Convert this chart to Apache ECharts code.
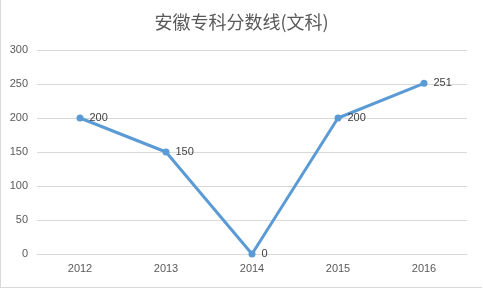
<!DOCTYPE html>
<html><head><meta charset="utf-8">
<script src="https://cdn.jsdelivr.net/npm/echarts@6/dist/echarts.min.js"></script>
<style>html,body{margin:0;padding:0;background:#fff;}#c{width:481px;height:287px;border:1px solid #d9d9d9;border-top:none;border-right:none;}</style>
</head><body><div id="c"></div>
<script>
const categories = ['2012','2013','2014','2015','2016'];
const values = [200,150,0,200,251];
const titleText = '安徽专科分数线(文科)';
const chart = echarts.init(document.getElementById('c'));
chart.setOption({
  animation:false,
  backgroundColor:'#fff',
  title:{text:titleText,left:'center',top:8,textStyle:{fontFamily:'Noto Sans CJK SC',fontSize:18,fontWeight:'normal',color:'#595959'}},
  grid:{left:36,right:15,top:50,bottom:33,containLabel:false},
  xAxis:{type:'category',data:categories,boundaryGap:true,
    axisLine:{show:true,lineStyle:{color:'#d9d9d9'}},axisTick:{show:false},
    axisLabel:{color:'#595959',fontSize:11,fontFamily:'Liberation Sans, sans-serif',margin:9}},
  yAxis:{type:'value',min:0,max:300,interval:50,
    axisLine:{show:false},axisTick:{show:false},
    splitLine:{lineStyle:{color:'#d9d9d9'}},
    axisLabel:{color:'#595959',fontSize:11,fontFamily:'Liberation Sans, sans-serif',margin:9}},
  series:[{type:'line',data:values,symbol:'circle',symbolSize:7,
    lineStyle:{color:'#5b9bd5',width:3},itemStyle:{color:'#5b9bd5'},
    label:{show:true,position:'right',distance:6,color:'#404040',fontSize:11,fontFamily:'Liberation Sans, sans-serif'}}]
});
</script></body></html>
